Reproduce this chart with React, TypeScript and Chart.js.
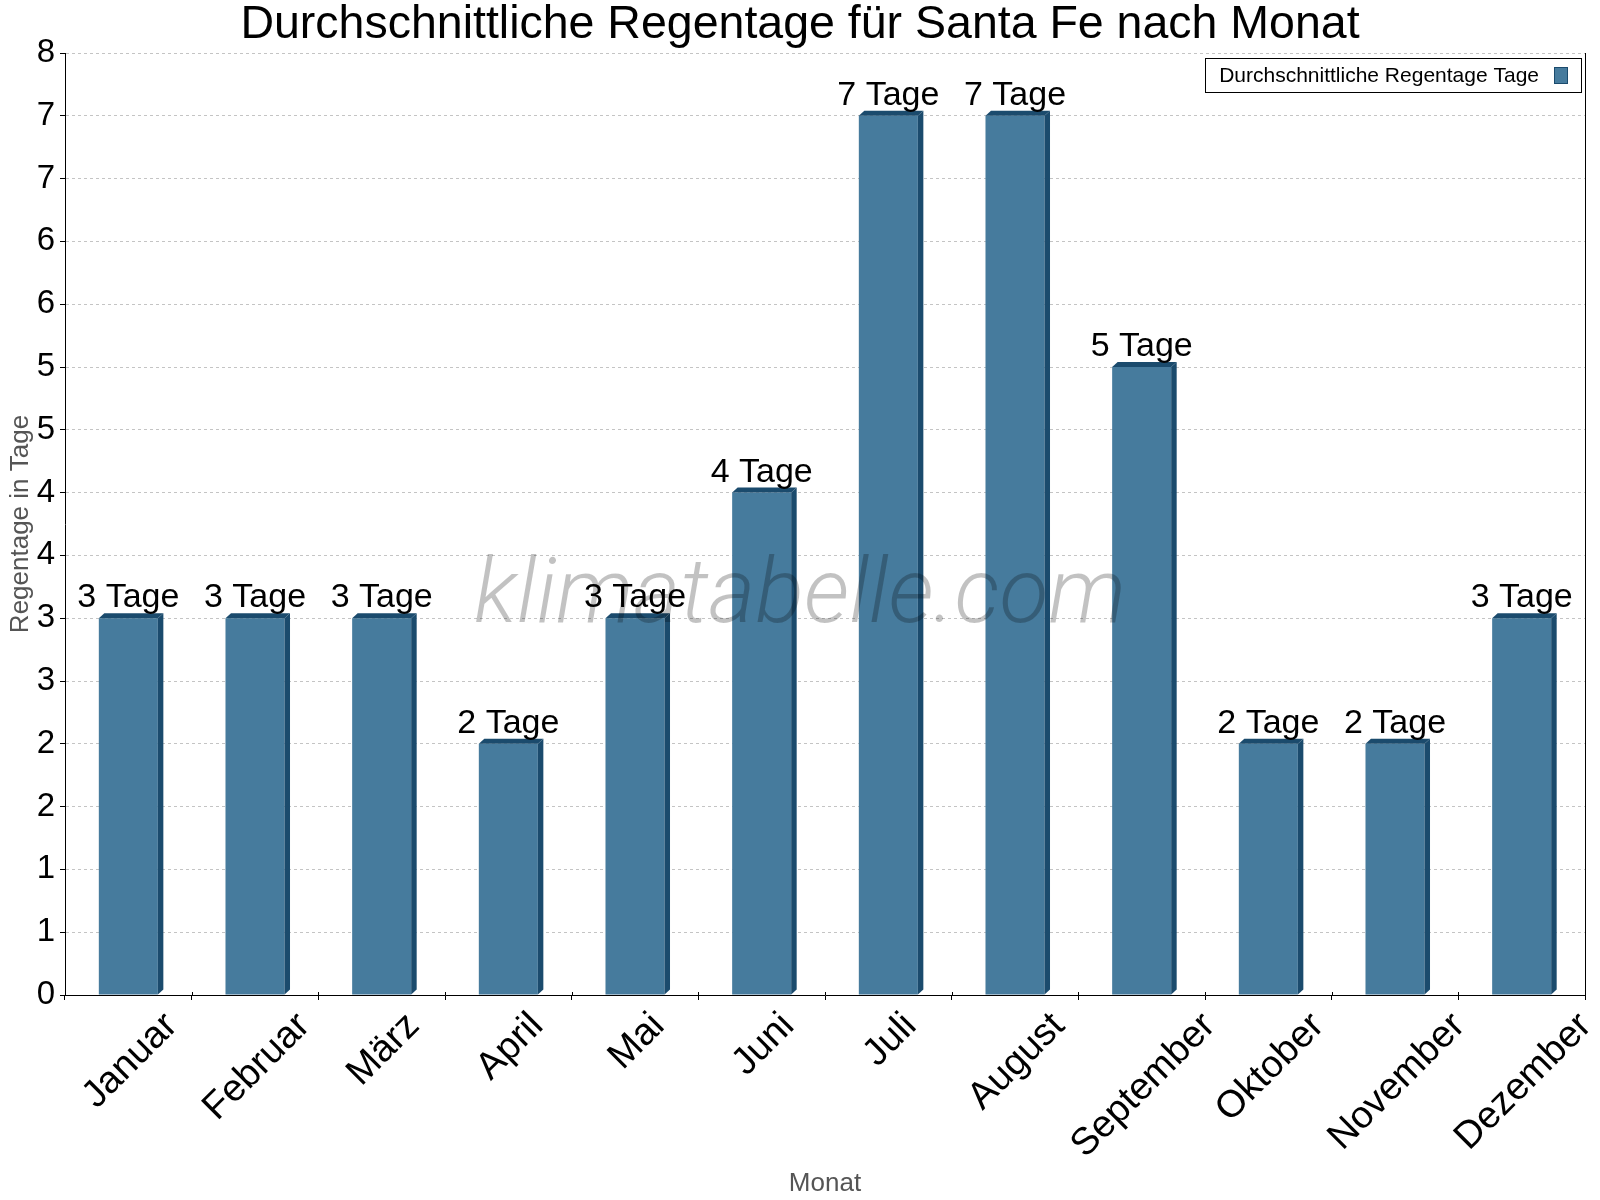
import React, { useEffect, useRef } from "react";
import { Chart, registerables } from "chart.js";

Chart.register(...registerables);

// Monthly average rainy days, Santa Fe
const months = [
  "Januar", "Februar", "März", "April", "Mai", "Juni",
  "Juli", "August", "September", "Oktober", "November", "Dezember",
];
const rainyDays = [3, 3, 3, 2, 3, 4, 7, 7, 5, 2, 2, 3];

const seriesLabel = "Durchschnittliche Regentage Tage";
const chartTitle = "Durchschnittliche Regentage für Santa Fe nach Monat";
const xAxisTitle = "Monat";
const yAxisTitle = "Regentage in Tage";
const unitLabel = "Tage";
const watermarkText = "klimatabelle.com";

const yMin = 0;
const yMax = 7.5;
const yStep = 0.5;

const FONT = '"Liberation Sans", Arial, Helvetica, sans-serif';
const FRONT = "#467b9d";
const SIDE = "#1b4b6d";
const DEPTH_X = 5.5;
const DEPTH_Y = 5;

const extras = {
  id: "extras",
  afterDatasetsDraw(chart: any) {
    const ctx = chart.ctx as CanvasRenderingContext2D;
    const meta = chart.getDatasetMeta(0);
    const values = chart.data.datasets[0].data as number[];
    ctx.save();

    // 3D faces: top strip and right side of every bar
    ctx.fillStyle = SIDE;
    meta.data.forEach((bar: any) => {
      const { x, y, base, width } = bar.getProps(["x", "y", "base", "width"], true);
      const l = x - width / 2;
      const r = x + width / 2;
      ctx.beginPath();
      ctx.moveTo(l, y);
      ctx.lineTo(l + DEPTH_X, y - DEPTH_Y);
      ctx.lineTo(r + DEPTH_X, y - DEPTH_Y);
      ctx.lineTo(r, y);
      ctx.closePath();
      ctx.fill();
      ctx.beginPath();
      ctx.moveTo(r, y);
      ctx.lineTo(r + DEPTH_X, y - DEPTH_Y);
      ctx.lineTo(r + DEPTH_X, base - DEPTH_Y);
      ctx.lineTo(r, base);
      ctx.closePath();
      ctx.fill();
    });

    // watermark
    ctx.font = "italic 300 90px Roboto, " + FONT;
    const wmW = ctx.measureText(watermarkText).width;
    const sx = 652 / wmW;
    ctx.save();
    ctx.translate(chart.width / 2, 622);
    ctx.scale(sx, 1);
    ctx.fillStyle = "rgba(0,0,0,0.24)";
    ctx.textAlign = "center";
    ctx.textBaseline = "alphabetic";
    ctx.fillText(watermarkText, 0, 0);
    ctx.restore();

    // value labels above bars
    ctx.font = "34px " + FONT;
    ctx.fillStyle = "#000";
    ctx.textAlign = "center";
    ctx.textBaseline = "alphabetic";
    meta.data.forEach((bar: any, i: number) => {
      const { x, y } = bar.getProps(["x", "y"], true);
      ctx.fillText(`${values[i]} ${unitLabel}`, x, y - 11);
    });
    ctx.restore();
  },
  afterDraw(chart: any) {
    const ctx = chart.ctx as CanvasRenderingContext2D;
    const area = chart.chartArea;
    const xScale = chart.scales.x;
    ctx.save();

    // title
    ctx.font = "46.5px " + FONT;
    ctx.fillStyle = "#000";
    ctx.textAlign = "center";
    ctx.textBaseline = "alphabetic";
    ctx.fillText(chartTitle, chart.width / 2, 38);

    // right frame line
    ctx.strokeStyle = "#000";
    ctx.lineWidth = 1;
    ctx.setLineDash([]);
    ctx.beginPath();
    ctx.moveTo(Math.round(area.right) + 0.5, area.top);
    ctx.lineTo(Math.round(area.right) + 0.5, area.bottom);
    ctx.stroke();

    // x tick marks poke slightly above the axis line
    ctx.beginPath();
    for (let i = 0; i <= months.length; i++) {
      const px = Math.round(xScale.getPixelForValue(i - 0.5)) + 0.5;
      ctx.moveTo(px, area.bottom - 3);
      ctx.lineTo(px, area.bottom);
    }
    ctx.stroke();

    // rotated month labels, centred under each category
    ctx.font = "38px " + FONT;
    ctx.fillStyle = "#000";
    ctx.textAlign = "center";
    ctx.textBaseline = "middle";
    months.forEach((m, i) => {
      const w = ctx.measureText(m).width;
      const cx = xScale.getPixelForValue(i) + 2;
      const cy = area.bottom + 25 + (w / 2) * Math.SQRT1_2;
      ctx.save();
      ctx.translate(cx, cy);
      ctx.rotate(-Math.PI / 4);
      ctx.fillText(m, 0, 0);
      ctx.restore();
    });

    // legend box, swatch on the right
    ctx.font = "21px " + FONT;
    ctx.textBaseline = "alphabetic";
    const tw = ctx.measureText(seriesLabel).width;
    const boxW = 14 + tw + 15 + 14 + 13;
    const boxH = 34;
    const boxR = area.right - 4;
    const boxL = boxR - boxW;
    const boxT = area.top + 5;
    ctx.fillStyle = "#fff";
    ctx.fillRect(boxL, boxT, boxW, boxH);
    ctx.strokeStyle = "#000";
    ctx.strokeRect(Math.round(boxL) + 0.5, Math.round(boxT) + 0.5, Math.round(boxW), boxH);
    ctx.fillStyle = "#000";
    ctx.textAlign = "left";
    ctx.fillText(seriesLabel, boxL + 14, boxT + 24);
    const swX = boxL + 14 + tw + 15;
    ctx.fillStyle = FRONT;
    ctx.fillRect(swX, boxT + 9, 14, 17);
    ctx.strokeStyle = SIDE;
    ctx.strokeRect(Math.round(swX) + 0.5, Math.round(boxT + 9) + 0.5, 13, 16);
    ctx.restore();
  },
};

export default function App() {
  const ref = useRef<HTMLCanvasElement>(null);

  useEffect(() => {
    const canvas = ref.current!;
    const chart = new Chart(canvas, {
      type: "bar",
      data: {
        labels: months,
        datasets: [
          {
            label: seriesLabel,
            data: rainyDays,
            backgroundColor: FRONT,
            borderWidth: 0,
            barPercentage: 0.466,
            categoryPercentage: 1,
          },
        ],
      },
      options: {
        responsive: false,
        animation: false,
        layout: { padding: { top: 53, right: 15, left: 0, bottom: 0 } },
        plugins: {
          legend: { display: false },
          title: { display: false },
          tooltip: { enabled: false },
        },
        scales: {
          x: {
            offset: true,
            afterFit: (scale: any) => {
              scale.height = 205;
            },
            grid: {
              display: true,
              drawOnChartArea: false,
              offset: true,
              color: "#000",
              tickColor: "#000",
              tickLength: 5,
            },
            border: { display: true, color: "#000", width: 1 },
            ticks: { display: false, autoSkip: false },
            title: {
              display: true,
              text: xAxisTitle,
              color: "#555",
              font: { family: FONT, size: 26 },
              padding: { top: 0, bottom: 1 },
            },
          },
          y: {
            min: yMin,
            max: yMax,
            afterFit: (scale: any) => {
              scale.width = 65;
            },
            grid: {
              color: "#c4c4c4",
              tickColor: "#000",
              tickLength: 5,
              tickBorderDash: [],
            },
            border: { display: true, color: "#000", width: 1, dash: [3, 3] },
            ticks: {
              stepSize: yStep,
              padding: 5,
              color: "#000",
              font: { family: FONT, size: 33 },
              callback: (v: any) => String(Math.round(Number(v))),
            },
            title: {
              display: true,
              text: yAxisTitle,
              color: "#555",
              font: { family: FONT, size: 26 },
              padding: { top: 5, bottom: 0 },
            },
          },
        },
      },
      plugins: [extras],
    } as any);
    return () => chart.destroy();
  }, []);

  return (
    <div style={{ position: "absolute", left: 0, top: 0, width: 1600, height: 1200, background: "#fff" }}>
      <canvas ref={ref} width={1600} height={1200} style={{ display: "block" }} />
    </div>
  );
}
